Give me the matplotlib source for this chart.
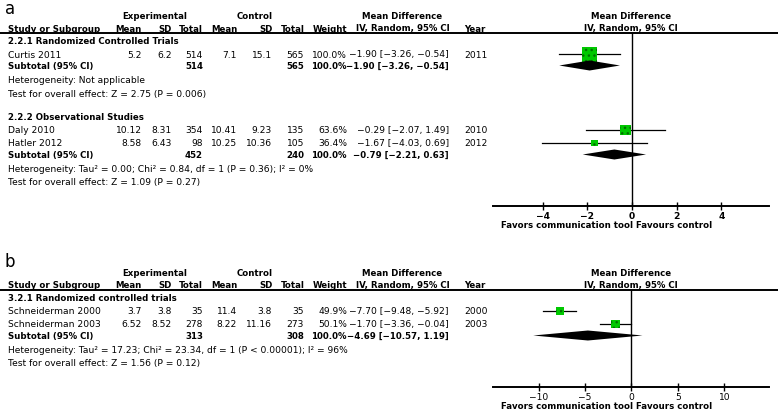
import matplotlib.pyplot as plt

plt.rcParams['font.family'] = 'DejaVu Sans'
FS = 6.6      # regular text
FSB = 6.2     # bold text
GREEN = '#00c800'
DOTS = '#007000'
W, H = 778, 410

# ---- panel a ----
a_groups = ["2.2.1 Randomized Controlled Trials", "2.2.2 Observational Studies"]
a_study = ["Curtis 2011", "Daly 2010", "Hatler 2012"]
a_group_of = [0, 1, 1]
a_exp_mean = [5.2, 10.12, 8.58]
a_exp_sd = [6.2, 8.31, 6.43]
a_exp_n = [514, 354, 98]
a_ctl_mean = [7.1, 10.41, 10.25]
a_ctl_sd = [15.1, 9.23, 10.36]
a_ctl_n = [565, 135, 105]
a_weight = [100.0, 63.6, 36.4]
a_md = [-1.90, -0.29, -1.67]
a_lo = [-3.26, -2.07, -4.03]
a_hi = [-0.54, 1.49, 0.69]
a_year = [2011, 2010, 2012]
a_sub_exp_n = [514, 452]
a_sub_ctl_n = [565, 240]
a_sub_md = [-1.90, -0.79]
a_sub_lo = [-3.26, -2.21]
a_sub_hi = [-0.54, 0.63]
a_het = ["Heterogeneity: Not applicable",
         "Heterogeneity: Tau² = 0.00; Chi² = 0.84, df = 1 (P = 0.36); I² = 0%"]
a_test = ["Test for overall effect: Z = 2.75 (P = 0.006)",
          "Test for overall effect: Z = 1.09 (P = 0.27)"]
a_ticks = [-4, -2, 0, 2, 4]

# ---- panel b ----
b_groups = ["3.2.1 Randomized controlled trials"]
b_study = ["Schneiderman 2000", "Schneiderman 2003"]
b_group_of = [0, 0]
b_exp_mean = [3.7, 6.52]
b_exp_sd = [3.8, 8.52]
b_exp_n = [35, 278]
b_ctl_mean = [11.4, 8.22]
b_ctl_sd = [3.8, 11.16]
b_ctl_n = [35, 273]
b_weight = [49.9, 50.1]
b_md = [-7.70, -1.70]
b_lo = [-9.48, -3.36]
b_hi = [-5.92, -0.04]
b_year = [2000, 2003]
b_sub_exp_n = [313]
b_sub_ctl_n = [308]
b_sub_md = [-4.69]
b_sub_lo = [-10.57]
b_sub_hi = [1.19]
b_het = ["Heterogeneity: Tau² = 17.23; Chi² = 23.34, df = 1 (P < 0.00001); I² = 96%"]
b_test = ["Test for overall effect: Z = 1.56 (P = 0.12)"]
b_ticks = [-10, -5, 0, 5, 10]

fig = plt.figure(figsize=(W / 100, H / 100), dpi=100)
bg = fig.add_axes([0, 0, 1, 1])
bg.set_xlim(0, W)
bg.set_ylim(H, 0)
bg.axis('off')


def m(s):
    return s.replace('-', '\u2212')


def ci(md, lo, hi):
    return m(f"{md:.2f} [{lo:.2f}, {hi:.2f}]")


def txt(x, y, s, ha='left', bold=False, size=None, va='center'):
    if size is None:
        size = FSB if bold else FS
    bg.text(x, y, s, ha=ha, va=va, fontsize=size,
            fontweight='bold' if bold else 'normal')


def panel(d, letter, letter_y, line_y, axis_y, xlim, ticks, tick_bold):
    txt(5, letter_y, letter, size=12, va='baseline')
    # headers
    h1, h2 = line_y - 17.5, line_y - 5
    txt(155, h1, "Experimental", 'center', True)
    txt(255, h1, "Control", 'center', True)
    txt(402, h1, "Mean Difference", 'center', True)
    txt(631, h1, "Mean Difference", 'center', True)
    txt(8, h2, "Study or Subgroup", bold=True)
    for x, s in [(142, "Mean"), (172, "SD"), (203, "Total"), (238, "Mean"),
                 (273, "SD"), (305, "Total"), (347, "Weight"),
                 (450, "IV, Random, 95% CI")]:
        txt(x, h2, s, 'right', True)
    txt(464, h2, "Year", bold=True)
    txt(631, h2, "IV, Random, 95% CI", 'center', True)
    bg.axhline(line_y, color='k', lw=1.4)

    ax = fig.add_axes([493 / W, 1 - axis_y / H, (769 - 493) / W, (axis_y - line_y) / H])
    ax.set_xlim(xlim)
    ax.set_ylim(axis_y, line_y)
    ax.patch.set_alpha(0)
    for s in ['top', 'left', 'right']:
        ax.spines[s].set_visible(False)
    ax.spines['bottom'].set_linewidth(1.4)
    ax.set_yticks([])
    ax.set_xticks(ticks)
    ax.set_xticklabels([m(f"{t:g}") for t in ticks],
                       fontweight='bold' if tick_bold else 'normal')
    ax.tick_params(axis='x', direction='inout', length=6, width=1, labelsize=FS, pad=0.5)
    ax.axvline(0, color='k', lw=1)
    txt(607, axis_y + 19, "Favors communication tool Favours control", 'center', True)

    y = line_y + 8
    for g, name in enumerate(d['groups']):
        txt(8, y, name, bold=True)
        y += 13
        idx = [i for i, k in enumerate(d['group_of']) if k == g]
        for i in idx:
            txt(8, y, d['study'][i])
            txt(142, y, f"{d['exp_mean'][i]:g}", 'right')
            txt(172, y, f"{d['exp_sd'][i]:g}", 'right')
            txt(203, y, f"{d['exp_n'][i]}", 'right')
            txt(237, y, f"{d['ctl_mean'][i]:g}", 'right')
            txt(272, y, f"{d['ctl_sd'][i]:g}", 'right')
            txt(304, y, f"{d['ctl_n'][i]}", 'right')
            txt(347, y, f"{d['weight'][i]:.1f}%", 'right')
            txt(449, y, ci(d['md'][i], d['lo'][i], d['hi'][i]), 'right')
            txt(464, y, f"{d['year'][i]}")
            ax.plot([d['lo'][i], d['hi'][i]], [y, y], color='k', lw=0.9, zorder=2)
            side = 15 * (d['weight'][i] / 100) ** 0.8
            ax.scatter([d['md'][i]], [y], s=(side * 0.72) ** 2, marker='s',
                       facecolor=GREEN, edgecolor=DOTS, linewidth=0,
                       hatch='...', zorder=3)
            y += 13
        y -= 1.5
        txt(8, y, "Subtotal (95% CI)", bold=True)
        txt(203, y, f"{d['sub_exp_n'][g]}", 'right', True)
        txt(304, y, f"{d['sub_ctl_n'][g]}", 'right', True)
        txt(347, y, "100.0%", 'right', True)
        txt(449, y, ci(d['sub_md'][g], d['sub_lo'][g], d['sub_hi'][g]), 'right', True)
        md, lo, hi = d['sub_md'][g], d['sub_lo'][g], d['sub_hi'][g]
        ax.fill([lo, md, hi, md], [y, y - 5, y, y + 5], color='k', lw=0, zorder=3)
        y += 14
        txt(8, y, d['het'][g])
        y += 13.5
        txt(8, y, d['test'][g])
        y += 24


panel_a = dict(groups=a_groups, study=a_study, group_of=a_group_of,
               exp_mean=a_exp_mean, exp_sd=a_exp_sd, exp_n=a_exp_n,
               ctl_mean=a_ctl_mean, ctl_sd=a_ctl_sd, ctl_n=a_ctl_n,
               weight=a_weight, md=a_md, lo=a_lo, hi=a_hi, year=a_year,
               sub_exp_n=a_sub_exp_n, sub_ctl_n=a_sub_ctl_n, sub_md=a_sub_md,
               sub_lo=a_sub_lo, sub_hi=a_sub_hi, het=a_het, test=a_test)
panel_b = dict(groups=b_groups, study=b_study, group_of=b_group_of,
               exp_mean=b_exp_mean, exp_sd=b_exp_sd, exp_n=b_exp_n,
               ctl_mean=b_ctl_mean, ctl_sd=b_ctl_sd, ctl_n=b_ctl_n,
               weight=b_weight, md=b_md, lo=b_lo, hi=b_hi, year=b_year,
               sub_exp_n=b_sub_exp_n, sub_ctl_n=b_sub_ctl_n, sub_md=b_sub_md,
               sub_lo=b_sub_lo, sub_hi=b_sub_hi, het=b_het, test=b_test)

panel(panel_a, "a", 14, 34, 207, (-6.23, 6.14), a_ticks, True)
panel(panel_b, "b", 267, 291, 388, (-14.9, 14.8), b_ticks, False)

fig.savefig("out.png", dpi=100)
